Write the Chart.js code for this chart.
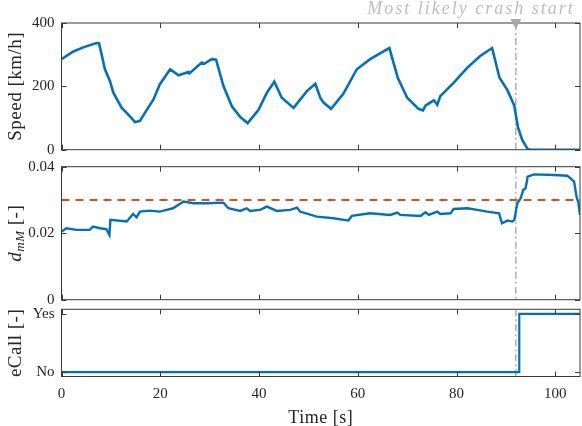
<!DOCTYPE html>
<html>
<head>
<meta charset="utf-8">
<script src="https://cdn.jsdelivr.net/npm/chart.js@4"></script>
<style>
  body { margin: 0; background: #fff; }
  #wrap { position: relative; width: 582px; height: 426px; }
  #wrap canvas { position: absolute; left: 0; top: 0; }
</style>
</head>
<body>
<div id="wrap">
  <canvas id="speedChart" width="582" height="426"></canvas>
  <canvas id="dChart" width="582" height="426"></canvas>
  <canvas id="ecallChart" width="582" height="426"></canvas>
</div>
<script>
// speed trace [km/h]
const speedTime = [0, 2.4, 4.4, 7.1, 7.6, 8.8, 9.8, 10.5, 12.2, 13.2, 14.9, 15.9, 17.2, 18.6, 19.9,
  22.0, 23.7, 25.7, 25.9, 28.4, 28.9, 30.4, 31.3, 32.8, 34.5, 36.2, 37.7, 39.9, 41.6, 43.1,
  44.6, 47.0, 49.7, 51.4, 52.4, 53.1, 54.6, 57.1, 59.8, 62.5, 64.6, 66.4, 68.1, 70.0,
  72.3, 73.2, 73.7, 75.4, 76.1, 76.7, 79.4, 82.2, 84.8, 87.2, 88.7, 90.3, 91.7, 92.4, 93.3, 94.4, 95.0, 105];
const speedValues = [286, 310, 323, 337, 336, 254, 217, 180, 132, 116, 87, 91, 124, 158, 206,
  254, 235, 245, 241, 275, 271, 286, 284, 201, 137, 103, 84, 126, 180, 215,
  164, 132, 185, 208, 164, 148, 129, 177, 254, 286, 305, 321, 227, 164,
  129, 124, 139, 156, 142, 169, 211, 259, 296, 321, 227, 188, 139, 73, 31, 2, 0, 0];

// d_mM trace [-]
const dTime = [0, 1.0, 3.0, 5.7, 6.4, 7.8, 9.1, 9.7, 9.9, 13.2, 14.5, 15.2, 15.9, 17.9, 19.9, 21.3,
  22.6, 24.7, 26.7, 29.4, 32.8, 33.8, 36.2, 37.5, 38.2, 40.2, 41.6, 43.6, 46.3, 47.7, 48.3,
  51.7, 55.1, 58.1, 58.8, 62.5, 66.6, 68.0, 68.6, 72.7, 73.7, 74.4, 76.1, 76.7, 78.8, 79.4,
  82.2, 84.2, 86.2, 88.6, 89.2, 90.3, 91.3, 91.7, 92.3, 93.0, 93.5, 94.0, 94.4, 95.7, 99.7,
  102.4, 103.1, 103.8, 104.3, 104.7, 105];
const dValues = [0.0205, 0.0215, 0.0210, 0.0210, 0.0220, 0.0215, 0.0212, 0.0195, 0.0240, 0.0235, 0.0258, 0.0248, 0.0265, 0.0268, 0.0265, 0.0270,
  0.0275, 0.0295, 0.0290, 0.0290, 0.0292, 0.0275, 0.0267, 0.0275, 0.0267, 0.0270, 0.0280, 0.0267, 0.0270, 0.0277, 0.0265,
  0.0250, 0.0245, 0.0238, 0.0252, 0.0260, 0.0255, 0.0262, 0.0255, 0.0252, 0.0263, 0.0255, 0.0265, 0.0258, 0.0260, 0.0273,
  0.0275, 0.0270, 0.0265, 0.0260, 0.0230, 0.0238, 0.0235, 0.0240, 0.0290, 0.0305, 0.0330, 0.0336, 0.0370, 0.0377, 0.0375,
  0.0373, 0.0365, 0.0355, 0.0310, 0.0290, 0.0255];
const dThreshold = 0.03;

// eCall flag (0 = No, 1 = Yes)
const ecallTime = [0, 92.7, 92.7, 105];
const ecallValues = [0, 0, 1, 1];
const ecallLabels = ["No", "Yes"];

const crashTime = 92;
const crashText = "Most likely crash start";
const xTicks = [0, 20, 40, 60, 80, 100];

const blue = "#0072BD";
const red = "#D95319";
const axisColor = "#3a3a3a";
const serif = "'Liberation Serif', 'DejaVu Serif', serif";

function pts(xs, ys) {
  return xs.map((x, i) => ({ x: x, y: ys[i] }));
}

// draws a vertical (rotated) label made of pieces, e.g. subscripts
function drawVertical(ctx, parts, cx, cy) {
  ctx.save();
  ctx.translate(cx, cy);
  ctx.rotate(-Math.PI / 2);
  ctx.fillStyle = "#262626";
  ctx.textBaseline = "middle";
  ctx.textAlign = "left";
  ctx.letterSpacing = "0.5px";
  let w = 0;
  parts.forEach(p => { ctx.font = p.font; w += ctx.measureText(p.text).width; });
  let x = -w / 2;
  parts.forEach(p => {
    ctx.font = p.font;
    ctx.fillText(p.text, x, p.dy || 0);
    x += ctx.measureText(p.text).width;
  });
  ctx.restore();
}

// matlab style box, inward ticks, crash marker line and labels
const boxPlugin = {
  id: "matlabBox",
  beforeDatasetsDraw(chart) {
    const ctx = chart.ctx;
    const a = chart.chartArea;
    const xs = chart.scales.x;
    // crash line
    const cx = xs.getPixelForValue(crashTime);
    ctx.save();
    ctx.strokeStyle = "#b4b4b4";
    ctx.lineWidth = 1.6;
    ctx.setLineDash([7, 3, 2, 3]);
    ctx.beginPath();
    ctx.moveTo(cx, a.top);
    ctx.lineTo(cx, a.bottom);
    ctx.stroke();
    ctx.restore();
  },
  afterDatasetsDraw(chart) {
    const ctx = chart.ctx;
    const a = chart.chartArea;
    const xs = chart.scales.x, ys = chart.scales.y;
    ctx.save();
    ctx.strokeStyle = axisColor;
    ctx.lineWidth = 1;
    ctx.strokeRect(a.left, a.top, a.right - a.left, a.bottom - a.top);
    ctx.beginPath();
    xTicks.forEach(t => {
      const px = Math.round(xs.getPixelForValue(t)) + 0.5;
      ctx.moveTo(px, a.bottom); ctx.lineTo(px, a.bottom - 5);
      ctx.moveTo(px, a.top); ctx.lineTo(px, a.top + 5);
    });
    ys.ticks.forEach(t => {
      const py = Math.round(ys.getPixelForValue(t.value)) + 0.5;
      ctx.moveTo(a.left, py); ctx.lineTo(a.left + 5, py);
      ctx.moveTo(a.right, py); ctx.lineTo(a.right - 5, py);
    });
    ctx.stroke();
    ctx.restore();
  },
  afterDraw(chart, args, opts) {
    const ctx = chart.ctx;
    const a = chart.chartArea;
    if (opts.title) {
      drawVertical(ctx, opts.title, opts.titleX, (a.top + a.bottom) / 2);
    }
    if (opts.marker) {
      const cx = chart.scales.x.getPixelForValue(crashTime);
      ctx.save();
      ctx.fillStyle = "#a8a8a8";
      ctx.beginPath();
      ctx.moveTo(cx - 5.5, a.top - 4);
      ctx.lineTo(cx + 5.5, a.top - 4);
      ctx.lineTo(cx, a.top + 6);
      ctx.closePath();
      ctx.fill();
      ctx.font = "italic 18px " + serif;
      ctx.letterSpacing = "2px";
      ctx.fillStyle = "#bdbdbd";
      ctx.textAlign = "center";
      ctx.textBaseline = "alphabetic";
      ctx.fillText(crashText, 471, 14);
      ctx.restore();
    }
    if (opts.xTitle) {
      ctx.save();
      ctx.font = "18px " + serif;
      ctx.letterSpacing = "0.5px";
      ctx.fillStyle = "#262626";
      ctx.textAlign = "center";
      ctx.textBaseline = "middle";
      ctx.fillText(opts.xTitle, (a.left + a.right) / 2, 418);
      ctx.restore();
    }
  }
};

function makeOptions(cfg) {
  return {
    responsive: false,
    animation: false,
    events: [],
    layout: { padding: { left: 0, right: 2, top: cfg.top, bottom: cfg.bottom } },
    plugins: {
      legend: { display: false },
      tooltip: { enabled: false },
      matlabBox: cfg.box
    },
    scales: {
      x: {
        type: "linear",
        min: 0,
        max: 105,
        grid: { display: false, drawTicks: false },
        border: { display: false },
        afterBuildTicks: s => { s.ticks = xTicks.map(v => ({ value: v })); },
        afterFit: s => { s.height = cfg.xHeight; },
        ticks: {
          display: cfg.showX,
          padding: 9,
          color: "#262626",
          font: { family: serif, size: 15 }
        }
      },
      y: {
        min: cfg.yMin,
        max: cfg.yMax,
        grid: { display: false, drawTicks: false },
        border: { display: false },
        afterBuildTicks: s => { s.ticks = cfg.yTicks.map(v => ({ value: v })); },
        afterFit: s => { s.width = 61.5; },
        ticks: {
          padding: 7,
          color: "#262626",
          font: { family: serif, size: 15 },
          callback: cfg.yFormat
        }
      }
    }
  };
}

new Chart(document.getElementById("speedChart"), {
  type: "line",
  data: {
    datasets: [{
      data: pts(speedTime, speedValues),
      borderColor: blue,
      borderWidth: 2.6,
      pointRadius: 0,
      tension: 0
    }]
  },
  options: makeOptions({
    top: 23, bottom: 276.3, xHeight: 0, showX: false,
    yMin: 0, yMax: 400, yTicks: [0, 200, 400],
    yFormat: v => String(v),
    box: {
      marker: true,
      titleX: 16,
      title: [{ text: "Speed [km/h]", font: "19px " + serif }]
    }
  }),
  plugins: [boxPlugin]
});

new Chart(document.getElementById("dChart"), {
  type: "line",
  data: {
    datasets: [{
      data: pts(dTime, dValues),
      borderColor: blue,
      borderWidth: 2.4,
      pointRadius: 0,
      tension: 0,
      order: 2
    }, {
      data: [{ x: 0, y: dThreshold }, { x: 105, y: dThreshold }],
      borderColor: red,
      borderWidth: 2,
      borderDash: [8, 6],
      pointRadius: 0,
      order: 1
    }]
  },
  options: makeOptions({
    top: 166.7, bottom: 126.3, xHeight: 0, showX: false,
    yMin: 0, yMax: 0.04, yTicks: [0, 0.02, 0.04],
    yFormat: v => (v === 0 ? "0" : v.toFixed(2)),
    box: {
      titleX: 16,
      title: [
        { text: "d", font: "italic 19px " + serif },
        { text: "mM", font: "italic 13px " + serif, dy: 5 },
        { text: " [-]", font: "19px " + serif }
      ]
    }
  }),
  plugins: [boxPlugin]
});

new Chart(document.getElementById("ecallChart"), {
  type: "line",
  data: {
    datasets: [{
      data: pts(ecallTime, ecallValues),
      borderColor: blue,
      borderWidth: 2.2,
      pointRadius: 0,
      tension: 0
    }]
  },
  options: makeOptions({
    top: 309.3, bottom: 24.5, xHeight: 25, showX: true,
    yMin: -0.075, yMax: 1.08, yTicks: [0, 1],
    yFormat: v => ecallLabels[v],
    box: {
      titleX: 16,
      xTitle: "Time [s]",
      title: [{ text: "eCall [-]", font: "19px " + serif }]
    }
  }),
  plugins: [boxPlugin]
});
</script>
</body>
</html>
